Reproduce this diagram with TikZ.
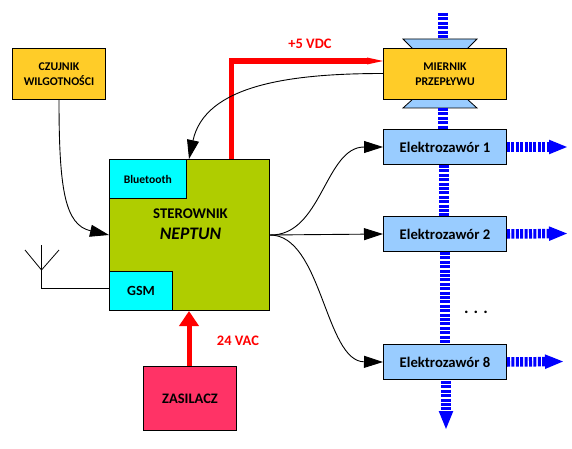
\documentclass[tikz,border=0pt]{standalone}
\usepackage{fontspec}
\setmainfont{Carlito}
\usetikzlibrary{arrows.meta,positioning}
\definecolor{boxyellow}{RGB}{255,204,40}
\definecolor{boxblue}{RGB}{153,204,255}
\definecolor{boxgreen}{RGB}{175,205,0}
\definecolor{boxpink}{RGB}{255,51,102}
\definecolor{boxcyan}{RGB}{0,255,255}
\tikzset{
  unit/.style={draw=black,line width=1pt,inner sep=0pt,align=center,font=\bfseries\fontsize{11.8}{15}\selectfont},
  valve/.style={unit,fill=boxblue,minimum width=123pt,minimum height=35pt,font=\bfseries\fontsize{14.7}{16}\selectfont},
  wire/.style={line width=0.9pt,-{Triangle[length=19pt,width=12pt]}},
  power/.style={red,line width=5.5pt},
  water/.style={blue,line width=9.5pt,dash pattern=on 3pt off 1.4pt},
  outflow/.style={water,-{Triangle[length=19pt,width=13pt,sep=0pt]}},
}
\begin{document}
\begin{tikzpicture}[x=1pt,y=-1pt]
\useasboundingbox (0,0) rectangle (572,449);
% ---- flow line behind the units ----
\coordinate (inlet) at (443,13);
\coordinate (outlet) at (446,430);
\node[valve,anchor=north west] (valve1) at (383,129) {Elektrozawór 1};
\node[valve,anchor=north west] (valve2) at (383,216) {Elektrozawór 2};
\node[valve,anchor=north west] (valve8) at (383,344) {Elektrozawór 8};
% throat of the flow meter
\filldraw[fill=boxblue,draw=black,line width=0.8pt] (403,39) -- (477,39) -- (467,49) -- (467,99) -- (477,108) -- (403,108) -- (413,99) -- (413,49) -- cycle;
\node[unit,fill=boxyellow,minimum width=123pt,minimum height=51pt,anchor=north west] (meter) at (383,48) {MIERNIK\\PRZEPŁYWU};
\draw[water] (inlet) -- (443,39);
\draw[water] (443,108) -- (valve1.north -| 443,0);
\draw[water] (valve1.south -| 444,0) -- (valve2.north -| 444,0);
\draw[water] (valve2.south -| 445,0) -- (valve8.north -| 445,0);
\draw[outflow] (446,381) -- (outlet);
% outlets of the valves
\coordinate (out1) at (568,147);
\coordinate (out2) at (568,233.5);
\coordinate (out8) at (564,361.5);
\draw[outflow] (valve1.east) -- (out1);
\draw[outflow] (valve2.east) -- (out2);
\draw[outflow] (valve8.east) -- (out8);
% ---- controller ----
\node[unit,fill=boxgreen,minimum width=160pt,minimum height=151pt,anchor=north west] (ctrl) at (109,159) {};
\node[align=center,inner sep=0pt,font=\fontsize{14.8}{21}\selectfont] (ctrllabel) at ([xshift=1pt,yshift=11pt]ctrl.center) {\textbf{STEROWNIK}\\\textbf{\textit{\fontsize{17.6}{21}\selectfont NEPTUN}}};
\node[unit,fill=boxcyan,minimum width=76.5pt,minimum height=39pt,anchor=north west,font=\bfseries\fontsize{11.6}{14}\selectfont] (bt) at (ctrl.north west) {Bluetooth};
\node[unit,fill=boxcyan,minimum width=63pt,minimum height=39pt,anchor=south west,font=\bfseries\fontsize{14}{16}\selectfont] (gsm) at (ctrl.south west) {GSM};
% ---- other units ----
\node[unit,fill=boxyellow,minimum width=93pt,minimum height=51pt,anchor=north west] (sensor) at (12,48) {CZUJNIK\\WILGOTNOŚCI};
\node[unit,fill=boxpink,minimum width=93pt,minimum height=64pt,anchor=north west,font=\bfseries\fontsize{14.5}{16}\selectfont] (psu) at (143,366) {ZASILACZ};
% power lines
\coordinate (bend) at (231.5,61);
\draw[power] (ctrl.north -| 231.5,0) -- (bend) -- (368,61);
\fill[red] (367,57.5) -- (meter.west |- bend) -- (367,64.5) -- cycle;
\draw[red,line width=5pt,-{Triangle[length=15pt,width=19pt,sep=0pt]}] (psu.north -| 189,0) -- (ctrl.south -| 189,0);
\node[red,font=\bfseries\fontsize{14.5}{16}\selectfont] (vdc) at (310,44) {+5 VDC};
\node[red,font=\bfseries\fontsize{14.5}{16}\selectfont] (vac) at (238,341) {24 VAC};
% signal wires
\draw[wire] (383,73.5) .. controls (290,73.5) and (205,85) .. (ctrl.north -| 189,0);
\draw[wire] (sensor.south) .. controls (59,190) and (65,225) .. (ctrl.west);
\draw[wire] (ctrl.east) .. controls (322,236) and (325,147) .. (valve1.west);
\draw[wire] (ctrl.east) -- (valve2.west);
\draw[wire] (ctrl.east) .. controls (322,235) and (325,361.5) .. (valve8.west);
% antenna
\coordinate (mast) at (41.5,288);
\coordinate (mastfork) at (41.5,270);
\draw[line width=0.8pt] (gsm.west |- mast) -- (mast) -- (41.5,245);
\draw[line width=0.8pt] (25,250) -- (mastfork) -- (59,250);
\node[font=\bfseries\fontsize{17}{17}\selectfont] (dots) at (476,312) {. . .};
\end{tikzpicture}
\end{document}
